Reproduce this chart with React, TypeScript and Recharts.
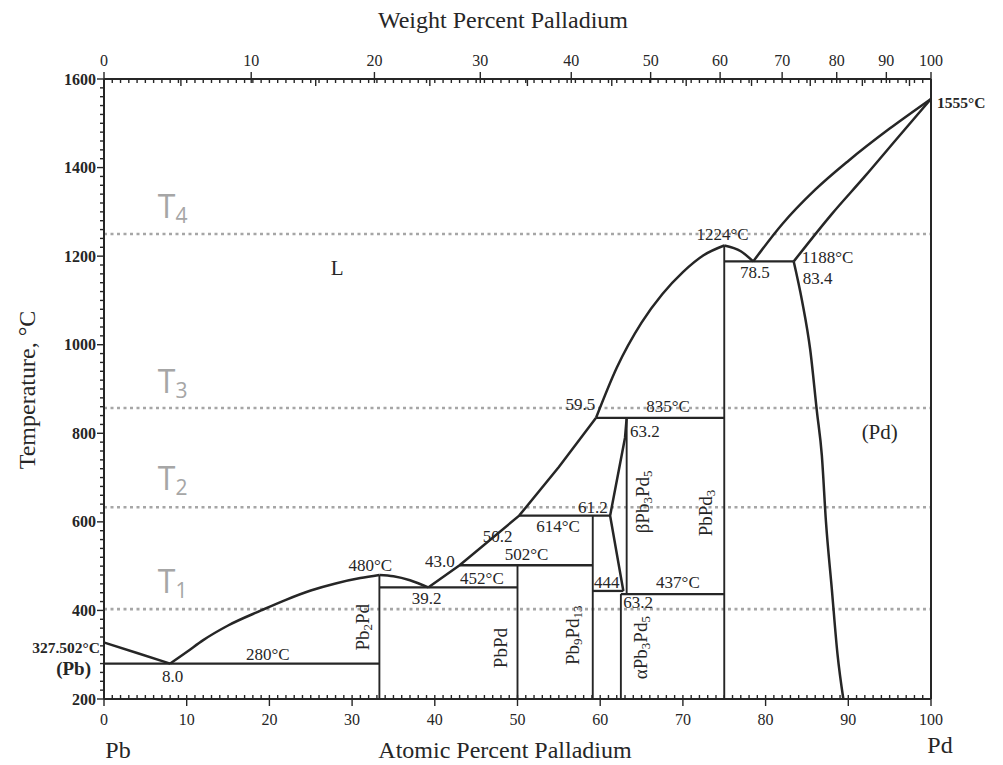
import React from 'react';
import {
  ComposedChart,
  Line,
  XAxis,
  YAxis,
  ReferenceLine,
  Scatter,
  Customized,
} from 'recharts';

const W = 1003;
const H = 765;
const SERIF = '"Liberation Serif", "Times New Roman", serif';
const SANS = '"Open Sans", "Noto Sans", sans-serif';
const INK = '#262626';
const GRAY = '#a6a6a6';

// ---------- axis ticks ----------
const atomicTicks = Array.from({ length: 101 }, (_, i) => i);
const atomicMajor = [0, 10, 20, 30, 40, 50, 60, 70, 80, 90, 100];
const tempTicks = Array.from({ length: 71 }, (_, i) => 200 + i * 20);
const tempMajor = [200, 400, 600, 800, 1000, 1200, 1400, 1600];
const wtLabels = [0, 10, 20, 30, 40, 50, 60, 70, 80, 90, 100];
const wtAtPos = [0, 17.8, 32.7, 45.5, 56.5, 66.1, 74.5, 82.0, 88.6, 94.6, 100];
const wtHalfAtPos = [9.3, 25.6, 39.4, 51.2, 61.4, 70.4, 78.3, 85.4, 91.7, 97.4];
const topTicks = Array.from(new Set([...atomicTicks, ...wtAtPos, ...wtHalfAtPos])).sort((a, b) => a - b);

// ---------- phase boundary curves (at.% Pd, °C) ----------
const pbLiquidus = [
  { x: 0, t: 327.5 },
  { x: 4, t: 304 },
  { x: 8.0, t: 280 },
];
const pb2pdLiquidusLeft = [
  { x: 8.0, t: 280 },
  { x: 10, t: 306 },
  { x: 12, t: 333 },
  { x: 15, t: 366 },
  { x: 19, t: 400 },
  { x: 22, t: 424 },
  { x: 25, t: 445 },
  { x: 28, t: 461 },
  { x: 31, t: 473 },
  { x: 33.3, t: 480 },
];
const pb2pdLiquidusRight = [
  { x: 33.3, t: 480 },
  { x: 35, t: 477 },
  { x: 37, t: 468 },
  { x: 39.2, t: 452 },
];
const midLiquidus = [
  { x: 39.2, t: 452 },
  { x: 43.0, t: 502 },
  { x: 50.2, t: 614 },
  { x: 55, t: 724 },
  { x: 59.5, t: 835 },
];
const pbpd3LiquidusLeft = [
  { x: 59.5, t: 835 },
  { x: 62, t: 948 },
  { x: 65, t: 1050 },
  { x: 67.5, t: 1114 },
  { x: 70, t: 1164 },
  { x: 72.5, t: 1202 },
  { x: 75, t: 1224 },
];
const pbpd3LiquidusRight = [
  { x: 75, t: 1224 },
  { x: 77, t: 1211 },
  { x: 78.5, t: 1188 },
];
const pdLiquidus = [
  { x: 78.5, t: 1188 },
  { x: 82, t: 1272 },
  { x: 86, t: 1350 },
  { x: 90, t: 1415 },
  { x: 95, t: 1488 },
  { x: 100, t: 1555 },
];
const pdSolidus = [
  { x: 83.4, t: 1188 },
  { x: 88, t: 1295 },
  { x: 92, t: 1380 },
  { x: 96, t: 1468 },
  { x: 100, t: 1555 },
];
const pdSolvus = [
  { x: 83.4, t: 1188 },
  { x: 84.4, t: 1100 },
  { x: 85.4, t: 988 },
  { x: 86.2, t: 850 },
  { x: 86.8, t: 750 },
  { x: 87.3, t: 600 },
  { x: 88.0, t: 450 },
  { x: 88.7, t: 300 },
  { x: 89.4, t: 200 },
];
const betaLeftBoundary = [
  { x: 63.2, t: 835 },
  { x: 63.0, t: 790 },
  { x: 61.2, t: 614 },
  { x: 62.8, t: 444 },
];

// ---------- straight segments: isotherms and compounds ----------
const isotherms = [
  { t: 280, from: 0, to: 33.3 },
  { t: 452, from: 33.3, to: 50 },
  { t: 502, from: 43.0, to: 59.1 },
  { t: 614, from: 50.2, to: 61.2 },
  { t: 444, from: 59.1, to: 62.8 },
  { t: 437, from: 62.5, to: 75 },
  { t: 835, from: 59.5, to: 75 },
  { t: 1188, from: 75, to: 83.4 },
];
const compounds = [
  { x: 33.3, from: 200, to: 480 },
  { x: 50, from: 200, to: 502 },
  { x: 59.1, from: 200, to: 614 },
  { x: 62.5, from: 200, to: 437 },
  { x: 63.2, from: 437, to: 835 },
  { x: 75, from: 200, to: 1224 },
];
const levelTemps = [1250, 857, 633, 403];

// ---------- annotations ----------
const numberLabels = [
  { x: 8.3, t: 250, text: '8.0' },
  { x: 19.8, t: 300, text: '280°C' },
  { x: 32.2, t: 502, text: '480°C' },
  { x: 40.6, t: 510, text: '43.0' },
  { x: 39.0, t: 428, text: '39.2' },
  { x: 45.7, t: 472, text: '452°C' },
  { x: 51.1, t: 527, text: '502°C' },
  { x: 47.6, t: 566, text: '50.2' },
  { x: 54.9, t: 590, text: '614°C' },
  { x: 59.1, t: 633, text: '61.2' },
  { x: 60.8, t: 464, text: '444' },
  { x: 64.6, t: 418, text: '63.2' },
  { x: 69.4, t: 462, text: '437°C' },
  { x: 57.6, t: 864, text: '59.5' },
  { x: 68.2, t: 861, text: '835°C' },
  { x: 65.4, t: 803, text: '63.2' },
  { x: 74.8, t: 1250, text: '1224°C' },
  { x: 78.7, t: 1164, text: '78.5' },
  { x: 87.5, t: 1196, text: '1188°C' },
  { x: 86.3, t: 1150, text: '83.4' },
];
const regionLabels = [
  { x: 28.2, t: 1173, text: 'L' },
  { x: 93.8, t: 803, text: '(Pd)' },
];
const phaseLabels = [
  { x: 31.2, t: 362, text: 'Pb_{2}Pd' },
  { x: 47.9, t: 315, text: 'PbPd' },
  { x: 56.6, t: 344, text: 'Pb_{9}Pd_{13}' },
  { x: 64.8, t: 316, text: 'αPb_{3}Pd_{5}' },
  { x: 65.1, t: 645, text: 'βPb_{3}Pd_{5}' },
  { x: 72.7, t: 620, text: 'PbPd_{3}' },
];
const levelLabels = [
  { x: 6.5, t: 1315, text: 'T_{4}' },
  { x: 6.5, t: 920, text: 'T_{3}' },
  { x: 6.5, t: 701, text: 'T_{2}' },
  { x: 6.5, t: 469, text: 'T_{1}' },
];

function rich(s: string, subSize: number, shift: number) {
  const parts = s.split(/(_\{[^}]*\})/).filter((p) => p.length > 0);
  const out: any[] = [];
  let inSub = false;
  parts.forEach((p, i) => {
    if (p.startsWith('_{')) {
      out.push(
        <tspan key={i} dy={inSub ? 0 : shift} fontSize={subSize}>
          {p.slice(2, -1)}
        </tspan>
      );
      inSub = true;
    } else {
      out.push(
        <tspan key={i} dy={inSub ? -shift : 0}>
          {p}
        </tspan>
      );
      inSub = false;
    }
  });
  return out;
}

// ---------- tick renderers ----------
const BottomTick = (props: any) => {
  const { x, y, payload } = props;
  const v = payload.value;
  const major = atomicMajor.includes(v);
  return (
    <g>
      <line x1={x} x2={x} y1={y - 4} y2={major ? y + 7 : y} stroke={INK} strokeWidth={1.4} />
      {major && (
        <text x={x} y={y + 20} textAnchor="middle" dominantBaseline="central" fontFamily={SERIF} fontSize={16} fill={INK}>
          {v}
        </text>
      )}
    </g>
  );
};

const TopTick = (props: any) => {
  const { x, y, payload } = props;
  const v = payload.value;
  const mi = wtAtPos.findIndex((a) => Math.abs(a - v) < 1e-6);
  const half = wtHalfAtPos.some((a) => Math.abs(a - v) < 1e-6);
  return (
    <g>
      {mi >= 0 ? (
        <line x1={x} x2={x} y1={y - 7} y2={y + 4} stroke={INK} strokeWidth={1.4} />
      ) : (
        <line x1={x} x2={x} y1={y} y2={y + (half ? 7 : 4)} stroke={INK} strokeWidth={1.4} />
      )}
      {mi >= 0 && (
        <text x={x} y={y - 19} textAnchor="middle" dominantBaseline="central" fontFamily={SERIF} fontSize={16} fill={INK}>
          {wtLabels[mi]}
        </text>
      )}
    </g>
  );
};

const LeftTick = (props: any) => {
  const { x, y, payload } = props;
  const v = payload.value;
  const major = tempMajor.includes(v);
  return (
    <g>
      <line x1={x - (major ? 7 : 4)} x2={x} y1={y} y2={y} stroke={INK} strokeWidth={1.4} />
      {major && (
        <text x={x - 8} y={y} textAnchor="end" dominantBaseline="central" fontFamily={SERIF} fontWeight="bold" fontSize={16} fill={INK}>
          {v}
        </text>
      )}
    </g>
  );
};

const RightTick = (props: any) => {
  const { x, y, payload } = props;
  const v = payload.value;
  const major = tempMajor.includes(v);
  return (
    <g>
      <line x1={x} x2={x + (major ? 8 : 4)} y1={y} y2={y} stroke={INK} strokeWidth={1.4} />
    </g>
  );
};

// ---------- label shapes ----------
const NumberShape = (p: any) => (
  <text x={p.cx} y={p.cy} textAnchor="middle" dominantBaseline="central" fontFamily={SERIF} fontSize={17} fill={INK}>
    {p.payload.text}
  </text>
);
const RegionShape = (p: any) => (
  <text x={p.cx} y={p.cy} textAnchor="middle" dominantBaseline="central" fontFamily={SERIF} fontSize={21} fill={INK}>
    {p.payload.text}
  </text>
);
const PhaseShape = (p: any) => (
  <text
    x={p.cx}
    y={p.cy}
    transform={`rotate(-90 ${p.cx} ${p.cy})`}
    textAnchor="middle"
    dominantBaseline="central"
    fontFamily={SERIF}
    fontSize={19}
    fill={INK}
  >
    {rich(p.payload.text, 13, 5)}
  </text>
);
const LevelShape = (p: any) => (
  <text x={p.cx} y={p.cy} textAnchor="start" dominantBaseline="central" fontFamily={SANS} fontSize={32} fill={GRAY}>
    {rich(p.payload.text, 21, 10)}
  </text>
);

const FreeText = () => (
  <g fill={INK} fontFamily={SERIF}>
    <text x={503} y={20} textAnchor="middle" dominantBaseline="central" fontSize={24}>
      Weight Percent Palladium
    </text>
    <text x={27} y={390} textAnchor="middle" dominantBaseline="central" fontSize={24} transform="rotate(-90 27 390)">
      Temperature, °C
    </text>
    <text x={505} y={750} textAnchor="middle" dominantBaseline="central" fontSize={24}>
      Atomic Percent Palladium
    </text>
    <text x={118} y={750} textAnchor="middle" dominantBaseline="central" fontSize={24}>
      Pb
    </text>
    <text x={940} y={745} textAnchor="middle" dominantBaseline="central" fontSize={24}>
      Pd
    </text>
    <text x={100} y={647} textAnchor="end" dominantBaseline="central" fontSize={15.5} fontWeight="bold">
      327.502°C
    </text>
    <text x={91} y={668} textAnchor="end" dominantBaseline="central" fontSize={19} fontWeight="bold">
      (Pb)
    </text>
    <text x={937} y={102} textAnchor="start" dominantBaseline="central" fontSize={15.5} fontWeight="bold">
      1555°C
    </text>
  </g>
);

const curveStyle = { stroke: INK, strokeWidth: 2.5, dot: false as const, isAnimationActive: false, activeDot: false as const };

export default function App() {
  const curves = [
    { d: pbLiquidus, type: 'monotone', ax: 'b' },
    { d: pb2pdLiquidusLeft, type: 'monotone', ax: 'b' },
    { d: pb2pdLiquidusRight, type: 'monotone', ax: 'b' },
    { d: midLiquidus, type: 'linear', ax: 'b' },
    { d: pbpd3LiquidusLeft, type: 'monotone', ax: 'b' },
    { d: pbpd3LiquidusRight, type: 'monotone', ax: 'b' },
    // same 0–100 scale as the bottom axis; attaching it keeps the top axis populated
    { d: pdLiquidus, type: 'monotone', ax: 'wt' },
    { d: pdSolidus, type: 'monotone', ax: 'b' },
    { d: pdSolvus, type: 'monotone', ax: 'b' },
    { d: betaLeftBoundary, type: 'linear', ax: 'b' },
  ];
  return (
    <div style={{ position: 'absolute', left: 0, top: 0, width: W, height: H, background: '#fff' }}>
      <ComposedChart width={W} height={H} margin={{ top: 49, right: 52, bottom: 36, left: 44 }}>
        <XAxis
          xAxisId="b"
          type="number"
          dataKey="x"
          domain={[0, 100]}
          ticks={atomicTicks}
          interval={0}
          tickLine={false}
          tickSize={0}
          tickMargin={0}
          height={30}
          axisLine={{ stroke: INK, strokeWidth: 2 }}
          tick={BottomTick}
        />
        <XAxis
          xAxisId="wt"
          orientation="top"
          type="number"
          dataKey="x"
          domain={[0, 100]}
          allowDataOverflow
          ticks={topTicks}
          interval={0}
          tickLine={false}
          tickSize={0}
          tickMargin={0}
          height={30}
          axisLine={{ stroke: INK, strokeWidth: 2 }}
          tick={TopTick}
        />
        <YAxis
          yAxisId="l"
          type="number"
          dataKey="t"
          domain={[200, 1600]}
          ticks={tempTicks}
          interval={0}
          tickLine={false}
          tickSize={0}
          tickMargin={0}
          width={60}
          axisLine={{ stroke: INK, strokeWidth: 2 }}
          tick={LeftTick}
        />
        <YAxis
          yAxisId="r"
          orientation="right"
          type="number"
          domain={[200, 1600]}
          ticks={tempTicks}
          interval={0}
          tickLine={false}
          tickSize={0}
          tickMargin={0}
          width={20}
          axisLine={{ stroke: INK, strokeWidth: 2 }}
          tick={RightTick}
        />

        {levelTemps.map((t) => (
          <ReferenceLine
            key={`lv${t}`}
            xAxisId="b"
            yAxisId="l"
            y={t}
            stroke={GRAY}
            strokeWidth={2.6}
            strokeDasharray="3 3.5"
          />
        ))}

        {isotherms.map((s, i) => (
          <ReferenceLine
            key={`iso${i}`}
            xAxisId="b"
            yAxisId="l"
            segment={[
              { x: s.from, y: s.t },
              { x: s.to, y: s.t },
            ]}
            stroke={INK}
            strokeWidth={2.3}
          />
        ))}
        {compounds.map((s, i) => (
          <ReferenceLine
            key={`cmp${i}`}
            xAxisId="b"
            yAxisId="l"
            segment={[
              { x: s.x, y: s.from },
              { x: s.x, y: s.to },
            ]}
            stroke={INK}
            strokeWidth={1.9}
          />
        ))}

        {curves.map((c, i) => (
          <Line
            key={`c${i}`}
            xAxisId={c.ax}
            yAxisId="l"
            data={c.d}
            dataKey="t"
            type={c.type as any}
            {...curveStyle}
          />
        ))}

        <Scatter xAxisId="b" yAxisId="l" data={numberLabels} dataKey="t" shape={NumberShape} isAnimationActive={false} />
        <Scatter xAxisId="b" yAxisId="l" data={regionLabels} dataKey="t" shape={RegionShape} isAnimationActive={false} />
        <Scatter xAxisId="b" yAxisId="l" data={phaseLabels} dataKey="t" shape={PhaseShape} isAnimationActive={false} />
        <Scatter xAxisId="b" yAxisId="l" data={levelLabels} dataKey="t" shape={LevelShape} isAnimationActive={false} />

        <Customized component={FreeText} />
      </ComposedChart>
    </div>
  );
}
